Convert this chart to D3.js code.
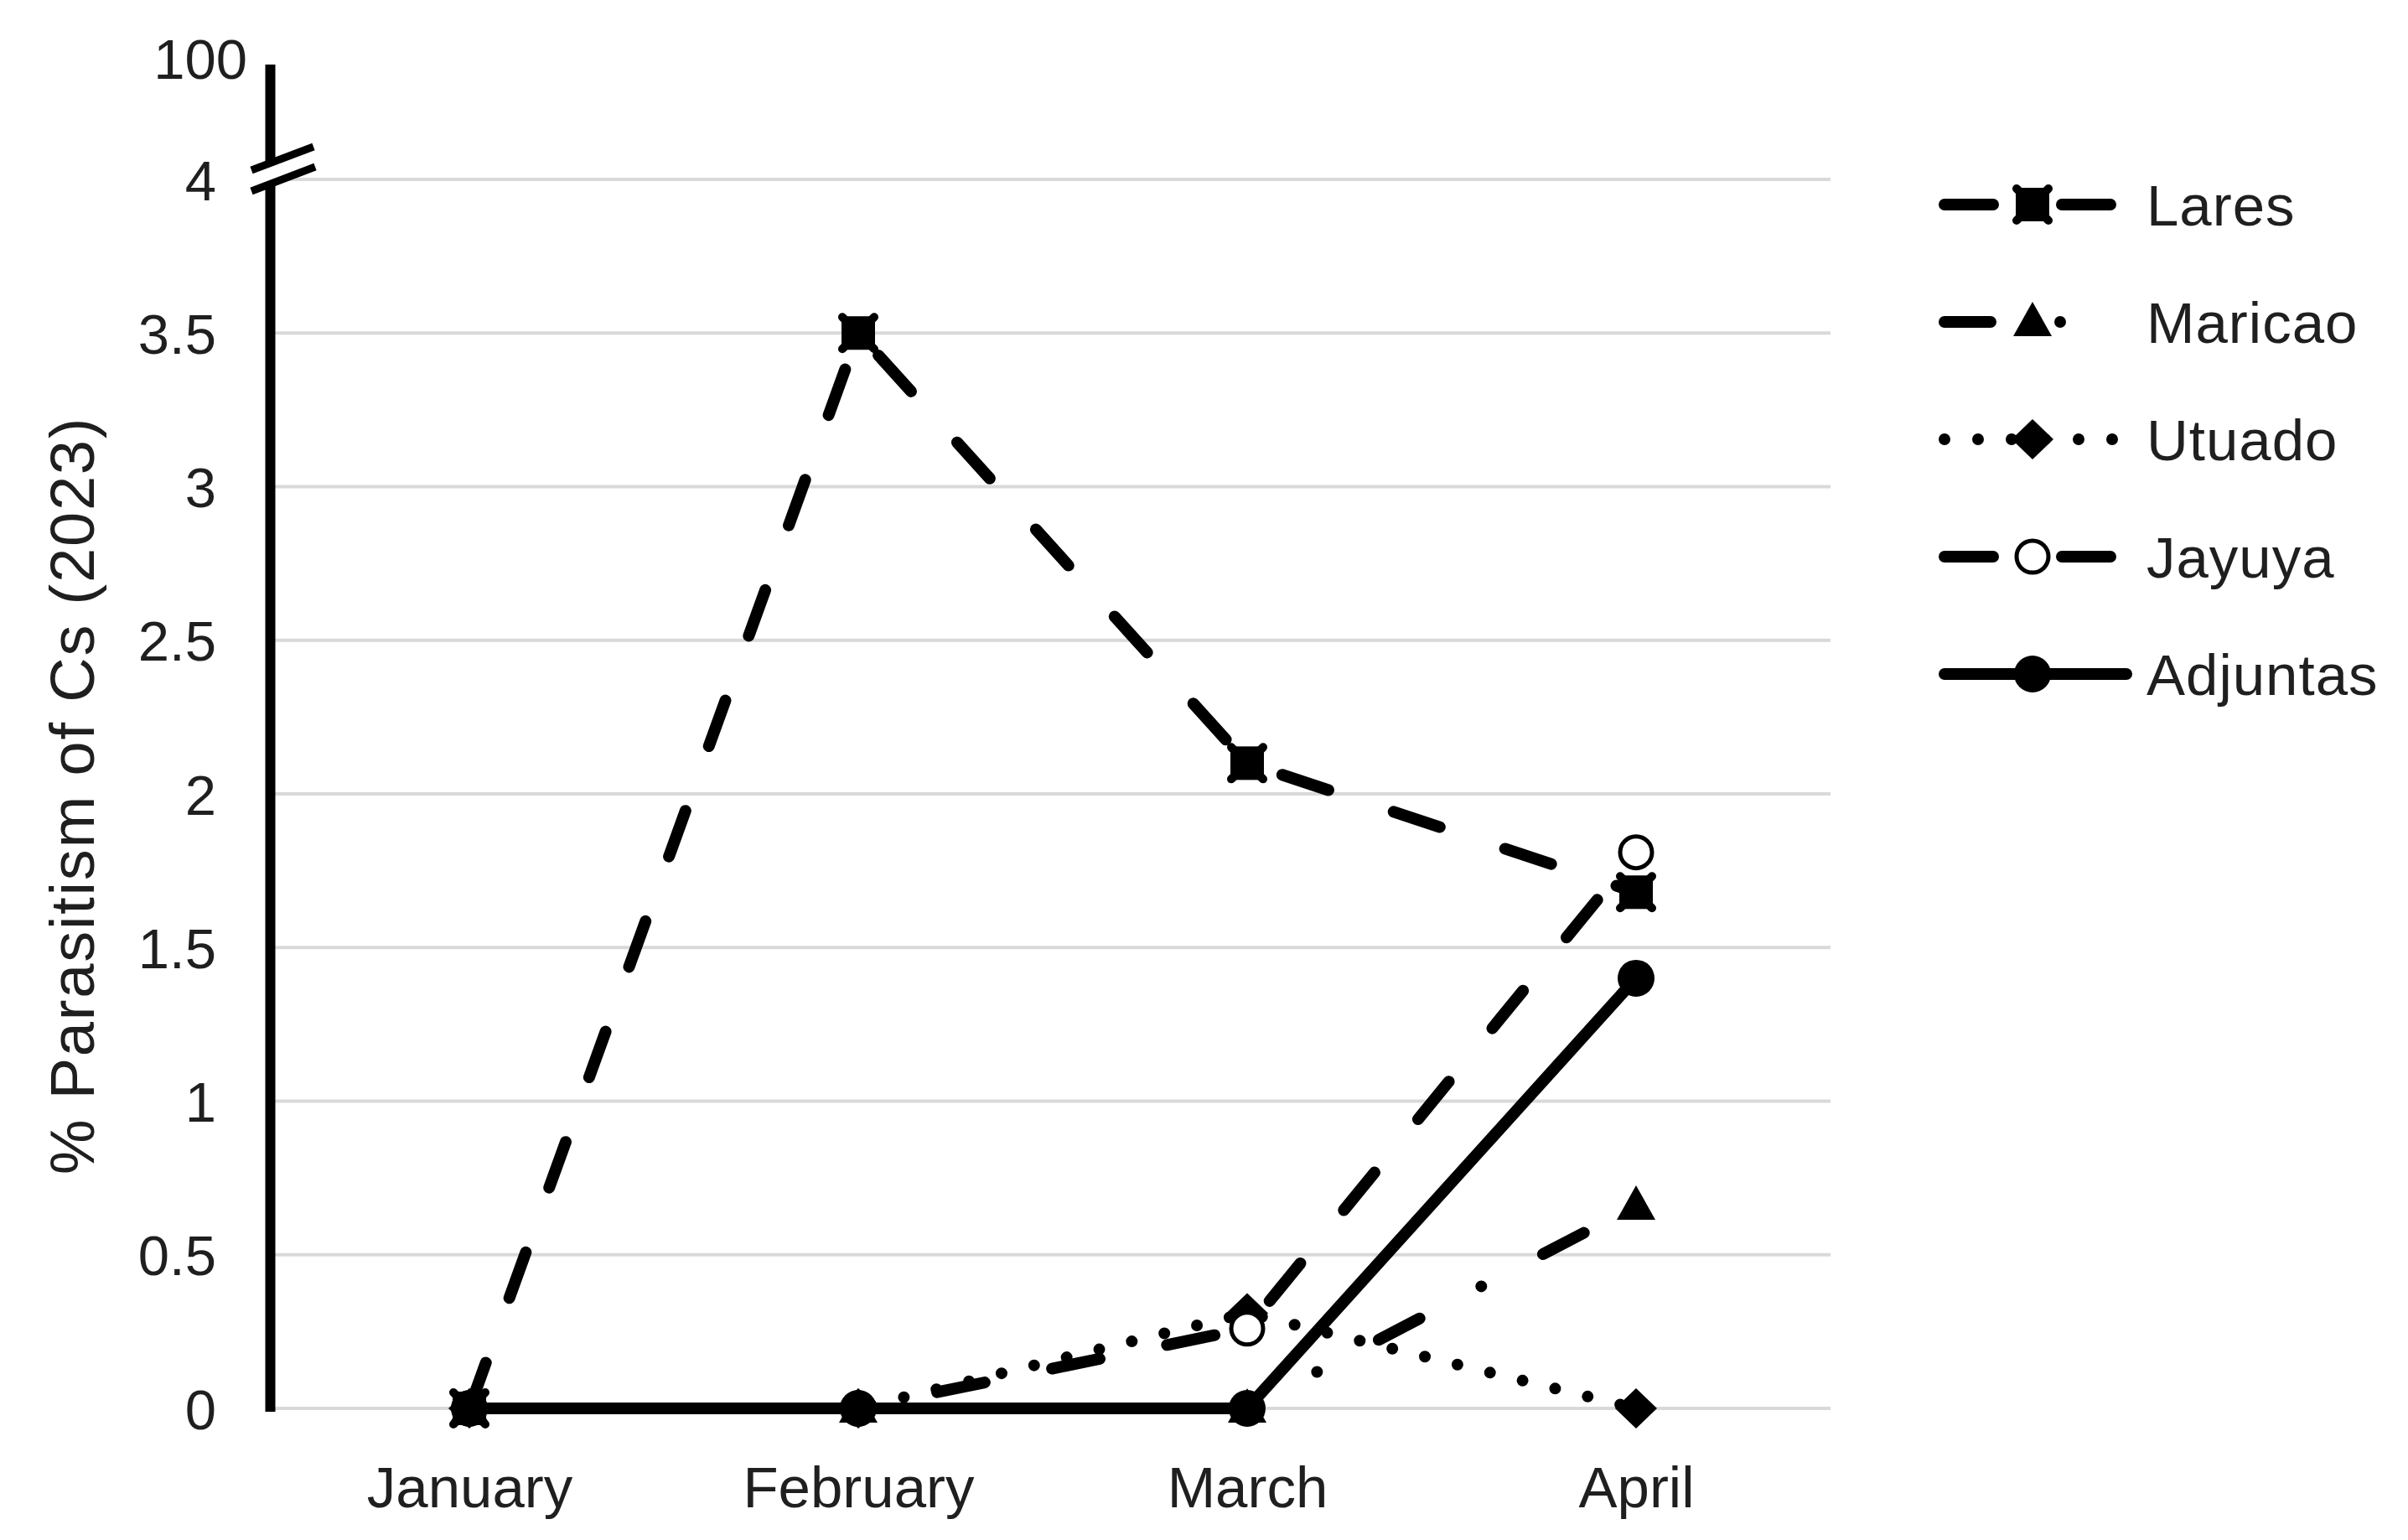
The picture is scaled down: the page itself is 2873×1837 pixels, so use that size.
<!DOCTYPE html>
<html>
<head>
    <title>Parasitism of Cs 2023</title>
    <script src="https://d3js.org/d3.v7.min.js"></script>
    <style>
        body { margin: 0; background: white; }
        text { font-family: "Liberation Sans", Arial, sans-serif; fill: #1f1f1f; }
        .grid { stroke: #d9d9d9; stroke-width: 4; }
        .tick-label { font-size: 67px; }
        .month { font-size: 69px; }
        .legend-text { font-size: 69px; letter-spacing: 1px; }
        .title { font-size: 74px; letter-spacing: 1.8px; }
        .series { fill: none; stroke: black; stroke-width: 14; stroke-linejoin: round; stroke-linecap: round; }
    </style>
</head>
<body>
<script>
    // data
    var months = ["January", "February", "March", "April"];
    var seriesNames = ["Lares", "Maricao", "Utuado", "Jayuya", "Adjuntas"];
    var lares    = [0, 3.5, 2.1, 1.68];
    var maricao  = [0, 0, 0, 0.66];
    var utuado   = [0, 0, 0.31, 0];
    var jayuya   = [0, 0, 0.26, 1.81];
    var adjuntas = [0, 0, 0, 1.4];
    var yTicks = [0, 0.5, 1, 1.5, 2, 2.5, 3, 3.5, 4];
    var breakLabel = "100";
    var yTitle = "% Parasitism of Cs (2023)";

    var seriesValues = [lares, maricao, utuado, jayuya, adjuntas];
    // line dash and marker per series
    var dashes  = ["58,82", "55,83,0,83", "0,40", "58,82", null];
    var markers = ["squareX", "triangle", "diamond", "openCircle", "circle"];

    var width = 2873, height = 1837;
    var svg = d3.select("body").append("svg")
                .attr("width", width).attr("height", height);

    var x = d3.scalePoint().domain(months).range([328, 2184]).padding(0.5);
    var y = d3.scaleLinear().domain([0, 4]).range([1680, 214]);

    // gridlines
    svg.append("g").selectAll("line")
        .data(yTicks)
        .enter().append("line")
        .attr("class", "grid")
        .attr("x1", 328).attr("x2", 2184)
        .attr("y1", function(d){ return y(d); })
        .attr("y2", function(d){ return y(d); });

    // y axis labels via d3 axis, no domain / ticks
    var yAxis = d3.axisLeft(y).tickValues(yTicks).tickSize(0).tickPadding(0)
                  .tickFormat(function(d){ return String(d); });
    var yg = svg.append("g").attr("transform", "translate(258,0)").call(yAxis);
    yg.select(".domain").remove();
    yg.selectAll("text").attr("class", "tick-label")
        .attr("font-size", null).attr("font-family", null)
        .attr("fill", "#1f1f1f").attr("dy", "0.36em");

    svg.append("text").attr("class", "tick-label")
        .attr("x", 295).attr("y", 94)
        .attr("text-anchor", "end")
        .text(breakLabel);

    // axis line with break
    svg.append("line")
        .attr("x1", 322.5).attr("x2", 322.5)
        .attr("y1", 77).attr("y2", 1684)
        .attr("stroke", "black").attr("stroke-width", 12);
    svg.append("polygon")
        .attr("points", "298,205 378,175 378,199 298,229")
        .attr("fill", "white");
    svg.append("line").attr("x1", 300).attr("y1", 203).attr("x2", 374).attr("y2", 175)
        .attr("stroke", "black").attr("stroke-width", 9);
    svg.append("line").attr("x1", 300).attr("y1", 228).attr("x2", 376).attr("y2", 199)
        .attr("stroke", "black").attr("stroke-width", 9);

    // axis title
    svg.append("text").attr("class", "title")
        .attr("transform", "translate(112,949) rotate(-90)")
        .attr("text-anchor", "middle")
        .text(yTitle);

    // month labels
    var xAxis = d3.axisBottom(x).tickSize(0).tickPadding(0);
    var xg = svg.append("g").attr("transform", "translate(0,1798)").call(xAxis);
    xg.select(".domain").remove();
    xg.selectAll("text").attr("class", "month")
        .attr("font-size", null).attr("font-family", null)
        .attr("fill", "#1f1f1f").attr("dy", 0).attr("y", 0);

    function drawMarker(g, type, cx, cy) {
        if (type == "squareX") {
            g.append("rect").attr("x", cx - 20).attr("y", cy - 20)
                .attr("width", 40).attr("height", 40).attr("fill", "black");
            g.append("path")
                .attr("d", "M" + (cx - 19) + "," + (cy - 19) + "L" + (cx + 19) + "," + (cy + 19) +
                           "M" + (cx + 19) + "," + (cy - 19) + "L" + (cx - 19) + "," + (cy + 19))
                .attr("stroke", "black").attr("stroke-width", 10).attr("stroke-linecap", "round");
        } else if (type == "triangle") {
            g.append("path")
                .attr("d", "M" + cx + "," + (cy - 24) + "L" + (cx + 23) + "," + (cy + 17) +
                           "L" + (cx - 23) + "," + (cy + 17) + "Z")
                .attr("fill", "black");
        } else if (type == "diamond") {
            g.append("path")
                .attr("d", "M" + cx + "," + (cy - 24) + "L" + (cx + 25) + "," + cy +
                           "L" + cx + "," + (cy + 24) + "L" + (cx - 25) + "," + cy + "Z")
                .attr("fill", "black");
        } else if (type == "openCircle") {
            g.append("circle").attr("cx", cx).attr("cy", cy).attr("r", 19)
                .attr("fill", "white").attr("stroke", "black").attr("stroke-width", 5);
        } else {
            g.append("circle").attr("cx", cx).attr("cy", cy).attr("r", 22)
                .attr("fill", "black");
        }
    }

    var line = d3.line()
                 .x(function(d, i){ return x(months[i]); })
                 .y(function(d){ return y(d); });

    var plot = svg.append("g");
    seriesValues.forEach(function(vals, s) {
        var g = plot.append("g");
        g.append("path").attr("class", "series")
            .attr("d", line(vals))
            .attr("stroke-dasharray", dashes[s]);
        vals.forEach(function(v, i) {
            drawMarker(g, markers[s], x(months[i]), y(v));
        });
    });

    // legend
    var legendY = d3.scalePoint().domain(seriesNames).range([244, 804]);
    var legend = svg.append("g");
    seriesNames.forEach(function(name, s) {
        var ly = legendY(name);
        var g = legend.append("g");
        g.append("path").attr("class", "series")
            .attr("d", "M2320," + ly + "H" + (s == 4 ? 2537 : 2527))
            .attr("stroke-dasharray", dashes[s]);
        drawMarker(g, markers[s], 2425, ly);
        g.append("text").attr("class", "legend-text")
            .attr("x", 2561).attr("y", ly).attr("dy", "0.36em")
            .text(name);
    });
</script>
</body>
</html>
